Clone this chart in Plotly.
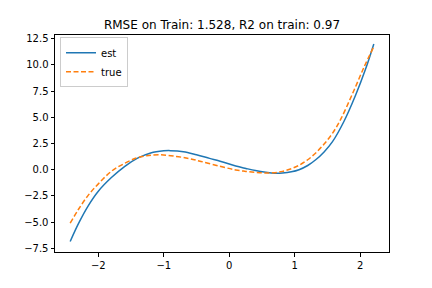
import plotly.graph_objects as go

# values
est_x = [-2.43, -2.3, -2.15, -2.0, -1.8, -1.6, -1.4, -1.2, -1.0, -0.9, -0.7, -0.5,
         -0.3, -0.127, 0.1, 0.255, 0.4, 0.559, 0.7, 0.814, 0.95, 1.067, 1.2, 1.322,
         1.45, 1.576, 1.753, 1.931, 2.084, 2.21]
est_y = [-6.85, -5.1, -3.4, -2.05, -0.75, 0.3, 1.1, 1.6, 1.8, 1.82, 1.72, 1.42,
         1.08, 0.79, 0.35, 0.12, -0.08, -0.24, -0.33, -0.31, -0.2, 0.0, 0.4, 0.95,
         1.7, 2.65, 4.6, 7.1, 9.6, 12.0]

true_x = [-2.43, -2.3, -2.15, -2.0, -1.8, -1.6, -1.42, -1.265, -1.067, -0.8125,
          -0.6, -0.431, -0.127, 0.1, 0.255, 0.4, 0.559, 0.7, 0.814, 0.95, 1.067,
          1.2, 1.322, 1.45, 1.576, 1.703, 1.881, 2.058, 2.21]
true_y = [-5.1, -3.75, -2.4, -1.35, -0.15, 0.6, 1.11, 1.33, 1.43, 1.27,
          1.05, 0.79, 0.3, -0.02, -0.16, -0.26, -0.31, -0.28, -0.16, 0.1, 0.42,
          0.95, 1.6, 2.45, 3.45, 4.8, 7.2, 9.75, 11.75]

x_ticks = [-2, -1, 0, 1, 2]
y_ticks = [-7.5, -5.0, -2.5, 0.0, 2.5, 5.0, 7.5, 10.0, 12.5]

title_text = "RMSE on Train: 1.528, R2 on train: 0.97"

fig = go.Figure()
fig.add_trace(go.Scatter(x=est_x, y=est_y, mode="lines", name="est",
                         line=dict(color="#1f77b4", width=1.5, shape="spline",
                                   smoothing=1.0)))
fig.add_trace(go.Scatter(x=true_x, y=true_y, mode="lines", name="true",
                         line=dict(color="#ff7f0e", width=1.5, dash="5px,2.5px",
                                   shape="spline", smoothing=1.0)))

axis_common = dict(showgrid=False, zeroline=False, showline=True, linecolor="black",
                   linewidth=1, mirror=True, ticks="outside", ticklen=3.5,
                   tickwidth=1, tickcolor="black",
                   tickfont=dict(family="DejaVu Sans", size=10, color="black"))

fig.update_layout(
    width=432, height=288,
    margin=dict(l=54.5, r=43, t=35, b=36),
    paper_bgcolor="white", plot_bgcolor="white",
    title=dict(text=title_text, x=0.5, xref="paper", y=1 - 25 / 288, yref="container",
               xanchor="center", yanchor="middle",
               font=dict(family="DejaVu Sans", size=12, color="black")),
    xaxis=dict(range=[-2.662, 2.442], tickvals=x_ticks,
               ticktext=[str(v).replace("-", "\u2212") for v in x_ticks], **axis_common),
    yaxis=dict(range=[-7.85, 12.85], tickvals=y_ticks,
               ticktext=[f"{v:.1f}".replace("-", "\u2212") for v in y_ticks], **axis_common),
    legend=dict(x=0.015, y=0.99, xanchor="left", yanchor="top",
                bgcolor="rgba(255,255,255,0.8)", bordercolor="#cccccc", borderwidth=1,
                font=dict(family="DejaVu Sans", size=10, color="black"),
                itemwidth=30, tracegroupgap=0),
    showlegend=True,
)

fig.write_html("out.html", config={"displayModeBar": False},
               post_script="document.body.style.margin='0';document.body.style.overflow='hidden';")
